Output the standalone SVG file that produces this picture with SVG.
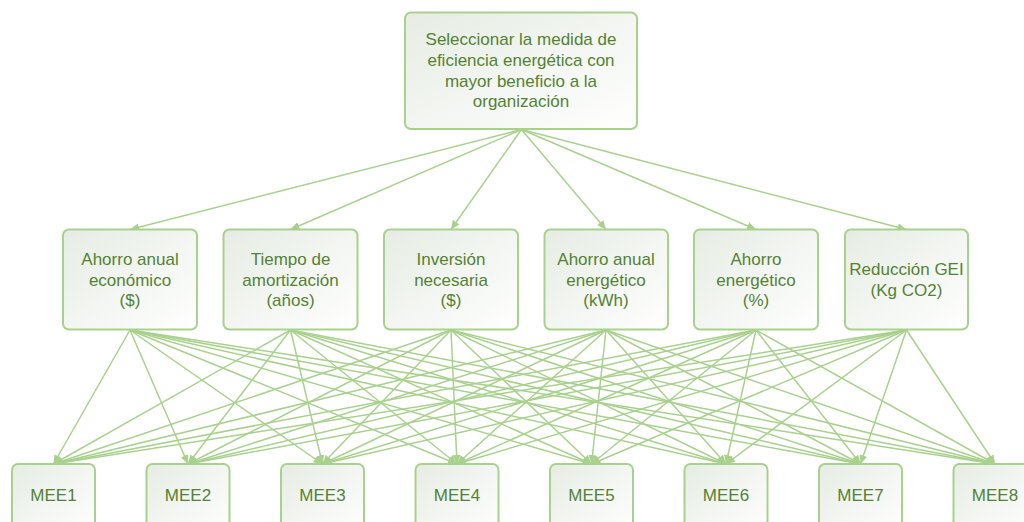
<svg xmlns="http://www.w3.org/2000/svg" width="1024" height="522" viewBox="0 0 1024 522">
<style>
.box{fill:url(#g);stroke:#a9d18e;stroke-width:2}
.t{font-family:"Liberation Sans",Arial,sans-serif;font-size:17px;fill:#548235;text-anchor:middle}
.c line{stroke:#a9d18e;stroke-width:1.5;marker-end:url(#a)}
</style>
<defs>
<linearGradient id="g" x1="0" y1="0" x2="1" y2="1">
<stop offset="0" stop-color="#e6ece3"/>
<stop offset="1" stop-color="#ffffff"/>
</linearGradient>
<marker id="a" markerUnits="userSpaceOnUse" markerWidth="10" markerHeight="8" refX="9" refY="4" orient="auto">
<path d="M0,0 L9,4 L0,8 Z" fill="#a9d18e"/>
</marker>
</defs>
<rect width="1024" height="522" fill="#ffffff"/>
<g class="c" id="connectors">
<line x1="521.5" y1="129.5" x2="130" y2="229.5"/>
<line x1="521.5" y1="129.5" x2="290.5" y2="229.5"/>
<line x1="521.5" y1="129.5" x2="451" y2="229.5"/>
<line x1="521.5" y1="129.5" x2="606" y2="229.5"/>
<line x1="521.5" y1="129.5" x2="756" y2="229.5"/>
<line x1="521.5" y1="129.5" x2="906.5" y2="229.5"/>
<line x1="130" y1="330" x2="53.5" y2="464"/>
<line x1="130" y1="330" x2="188" y2="464"/>
<line x1="130" y1="330" x2="322.5" y2="464"/>
<line x1="130" y1="330" x2="457" y2="464"/>
<line x1="130" y1="330" x2="591.5" y2="464"/>
<line x1="130" y1="330" x2="726" y2="464"/>
<line x1="130" y1="330" x2="860.5" y2="464"/>
<line x1="130" y1="330" x2="995" y2="464"/>
<line x1="290.5" y1="330" x2="53.5" y2="464"/>
<line x1="290.5" y1="330" x2="188" y2="464"/>
<line x1="290.5" y1="330" x2="322.5" y2="464"/>
<line x1="290.5" y1="330" x2="457" y2="464"/>
<line x1="290.5" y1="330" x2="591.5" y2="464"/>
<line x1="290.5" y1="330" x2="726" y2="464"/>
<line x1="290.5" y1="330" x2="860.5" y2="464"/>
<line x1="290.5" y1="330" x2="995" y2="464"/>
<line x1="451" y1="330" x2="53.5" y2="464"/>
<line x1="451" y1="330" x2="188" y2="464"/>
<line x1="451" y1="330" x2="322.5" y2="464"/>
<line x1="451" y1="330" x2="457" y2="464"/>
<line x1="451" y1="330" x2="591.5" y2="464"/>
<line x1="451" y1="330" x2="726" y2="464"/>
<line x1="451" y1="330" x2="860.5" y2="464"/>
<line x1="451" y1="330" x2="995" y2="464"/>
<line x1="606" y1="330" x2="53.5" y2="464"/>
<line x1="606" y1="330" x2="188" y2="464"/>
<line x1="606" y1="330" x2="322.5" y2="464"/>
<line x1="606" y1="330" x2="457" y2="464"/>
<line x1="606" y1="330" x2="591.5" y2="464"/>
<line x1="606" y1="330" x2="726" y2="464"/>
<line x1="606" y1="330" x2="860.5" y2="464"/>
<line x1="606" y1="330" x2="995" y2="464"/>
<line x1="756" y1="330" x2="53.5" y2="464"/>
<line x1="756" y1="330" x2="188" y2="464"/>
<line x1="756" y1="330" x2="322.5" y2="464"/>
<line x1="756" y1="330" x2="457" y2="464"/>
<line x1="756" y1="330" x2="591.5" y2="464"/>
<line x1="756" y1="330" x2="726" y2="464"/>
<line x1="756" y1="330" x2="860.5" y2="464"/>
<line x1="756" y1="330" x2="995" y2="464"/>
<line x1="906.5" y1="330" x2="53.5" y2="464"/>
<line x1="906.5" y1="330" x2="188" y2="464"/>
<line x1="906.5" y1="330" x2="322.5" y2="464"/>
<line x1="906.5" y1="330" x2="457" y2="464"/>
<line x1="906.5" y1="330" x2="591.5" y2="464"/>
<line x1="906.5" y1="330" x2="726" y2="464"/>
<line x1="906.5" y1="330" x2="860.5" y2="464"/>
<line x1="906.5" y1="330" x2="995" y2="464"/>
</g>
<g id="goal">
<rect class="box" x="405" y="12.5" width="232" height="116.5" rx="6"/>
<text class="t" x="521" y="45">Seleccionar la medida de</text>
<text class="t" x="521" y="66">eficiencia energética con</text>
<text class="t" x="521" y="86.5">mayor beneficio a la</text>
<text class="t" x="521" y="107">organización</text>
</g>
<g id="c1">
<rect class="box" x="63" y="229.5" width="134" height="100" rx="6"/>
<text class="t" x="130" y="265">Ahorro anual</text>
<text class="t" x="130" y="285.5">económico</text>
<text class="t" x="130" y="306">($)</text>
</g>
<g id="c2">
<rect class="box" x="223.5" y="229.5" width="134" height="100" rx="6"/>
<text class="t" x="290.5" y="265">Tiempo de</text>
<text class="t" x="290.5" y="285.5">amortización</text>
<text class="t" x="290.5" y="306">(años)</text>
</g>
<g id="c3">
<rect class="box" x="384" y="229.5" width="134" height="100" rx="6"/>
<text class="t" x="451" y="265">Inversión</text>
<text class="t" x="451" y="285.5">necesaria</text>
<text class="t" x="451" y="306">($)</text>
</g>
<g id="c4">
<rect class="box" x="544.5" y="229.5" width="123.5" height="100" rx="6"/>
<text class="t" x="606" y="265">Ahorro anual</text>
<text class="t" x="606" y="285.5">energético</text>
<text class="t" x="606" y="306">(kWh)</text>
</g>
<g id="c5">
<rect class="box" x="694" y="229.5" width="124" height="100" rx="6"/>
<text class="t" x="756" y="265">Ahorro</text>
<text class="t" x="756" y="285.5">energético</text>
<text class="t" x="756" y="306">(%)</text>
</g>
<g id="c6">
<rect class="box" x="845" y="229.5" width="123" height="100" rx="6"/>
<text class="t" x="906.5" y="275">Reducción GEI</text>
<text class="t" x="906.5" y="296">(Kg CO2)</text>
</g>
<g id="m1"><rect class="box" x="12" y="464" width="83" height="70" rx="6"/><text class="t" x="53.5" y="501">MEE1</text></g>
<g id="m2"><rect class="box" x="146.5" y="464" width="83" height="70" rx="6"/><text class="t" x="188" y="501">MEE2</text></g>
<g id="m3"><rect class="box" x="281" y="464" width="83" height="70" rx="6"/><text class="t" x="322.5" y="501">MEE3</text></g>
<g id="m4"><rect class="box" x="415.5" y="464" width="83" height="70" rx="6"/><text class="t" x="457" y="501">MEE4</text></g>
<g id="m5"><rect class="box" x="550" y="464" width="83" height="70" rx="6"/><text class="t" x="591.5" y="501">MEE5</text></g>
<g id="m6"><rect class="box" x="684.5" y="464" width="83" height="70" rx="6"/><text class="t" x="726" y="501">MEE6</text></g>
<g id="m7"><rect class="box" x="819" y="464" width="83" height="70" rx="6"/><text class="t" x="860.5" y="501">MEE7</text></g>
<g id="m8"><rect class="box" x="953.5" y="464" width="83" height="70" rx="6"/><text class="t" x="995" y="501">MEE8</text></g>
</svg>
